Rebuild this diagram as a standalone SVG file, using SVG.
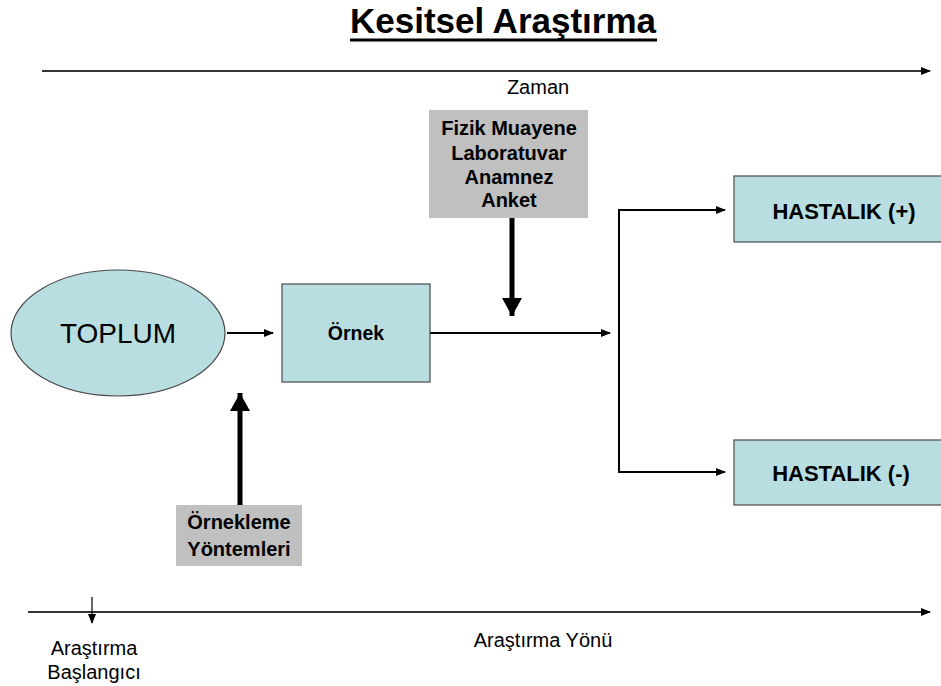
<svg xmlns="http://www.w3.org/2000/svg" width="941" height="686" viewBox="0 0 941 686">
<defs>
<style>
.t{font-family:"Liberation Sans",Arial,sans-serif;fill:#000}
.b{font-weight:bold}
.node{fill:#b8dee1;stroke:#4a4a4a;stroke-width:1.2}
.gray{fill:#c0c0c0}
.ln{stroke:#000;stroke-width:2;fill:none}
.axis{stroke:#333;stroke-width:2;fill:none}
.thick{stroke:#000;stroke-width:5;fill:none}
</style>
<marker id="ah" markerWidth="10" markerHeight="8" refX="9" refY="4" orient="auto" markerUnits="userSpaceOnUse"><path d="M0,0 L10,4 L0,8 Z" fill="#000"/></marker>
<marker id="big" markerWidth="18" markerHeight="20" refX="18" refY="10" orient="auto" markerUnits="userSpaceOnUse"><path d="M0,0 L18,10 L0,20 Z" fill="#000"/></marker>
</defs>
<rect width="941" height="686" fill="#fff"/>
<g id="title">
<text class="t b" x="503" y="33" font-size="35" text-anchor="middle">Kesitsel Araştırma</text>
<line x1="350" y1="40" x2="657" y2="40" stroke="#000" stroke-width="3"/>
</g>
<g id="connectors">
<line class="axis" x1="42" y1="71" x2="930" y2="71" marker-end="url(#ah)"/>
<line class="axis" x1="28" y1="612" x2="930" y2="612" marker-end="url(#ah)"/>
<line stroke="#000" stroke-width="1.2" x1="92" y1="597" x2="92" y2="623" marker-end="url(#ah)"/>
<line class="ln" x1="227" y1="333" x2="273" y2="333" marker-end="url(#ah)"/>
<line class="ln" x1="430" y1="333" x2="610" y2="333" marker-end="url(#ah)"/>
<path class="ln" d="M724,210 H619 V472 H724" stroke-width="1.6"/>
<line class="ln" x1="619" y1="210" x2="725" y2="210" marker-end="url(#ah)"/>
<line class="ln" x1="619" y1="472" x2="725" y2="472" marker-end="url(#ah)"/>
<line class="thick" x1="512" y1="218" x2="512" y2="316" marker-end="url(#big)"/>
<line class="thick" x1="240" y1="505" x2="240" y2="393" marker-end="url(#big)"/>
</g>
<g id="zaman"><text class="t" x="538" y="94" font-size="20" text-anchor="middle">Zaman</text></g>
<g id="yontem"><text class="t" x="543" y="647" font-size="20" text-anchor="middle">Araştırma Yönü</text></g>
<g id="baslangic">
<text class="t" x="94" y="655" font-size="20" text-anchor="middle">Araştırma</text>
<text class="t" x="94" y="679" font-size="20" text-anchor="middle">Başlangıcı</text>
</g>
<g id="toplum">
<ellipse class="node" cx="118" cy="333" rx="107" ry="63"/>
<text class="t" x="118" y="343" font-size="28" text-anchor="middle">TOPLUM</text>
</g>
<g id="ornek">
<rect class="node" x="282" y="284" width="148" height="98"/>
<text class="t b" x="356" y="340" font-size="19.5" text-anchor="middle">Örnek</text>
</g>
<g id="yontemler">
<rect class="gray" x="429" y="110" width="159" height="108"/>
<text class="t b" x="509" y="135" font-size="20" text-anchor="middle">Fizik Muayene</text>
<text class="t b" x="509" y="160" font-size="20" text-anchor="middle">Laboratuvar</text>
<text class="t b" x="509" y="184" font-size="20" text-anchor="middle">Anamnez</text>
<text class="t b" x="509" y="207" font-size="20" text-anchor="middle">Anket</text>
</g>
<g id="orneklemeyontemleri">
<rect class="gray" x="176" y="505" width="126" height="61"/>
<text class="t b" x="239" y="529" font-size="20" text-anchor="middle">Örnekleme</text>
<text class="t b" x="239" y="556" font-size="20" text-anchor="middle">Yöntemleri</text>
</g>
<g id="hastalikpos">
<rect class="node" x="734" y="176" width="210" height="66"/>
<text class="t b" x="844" y="219" font-size="22" text-anchor="middle">HASTALIK (+)</text>
</g>
<g id="hastalikneg">
<rect class="node" x="734" y="440" width="210" height="65"/>
<text class="t b" x="841" y="481" font-size="22" text-anchor="middle">HASTALIK (-)</text>
</g>
</svg>
